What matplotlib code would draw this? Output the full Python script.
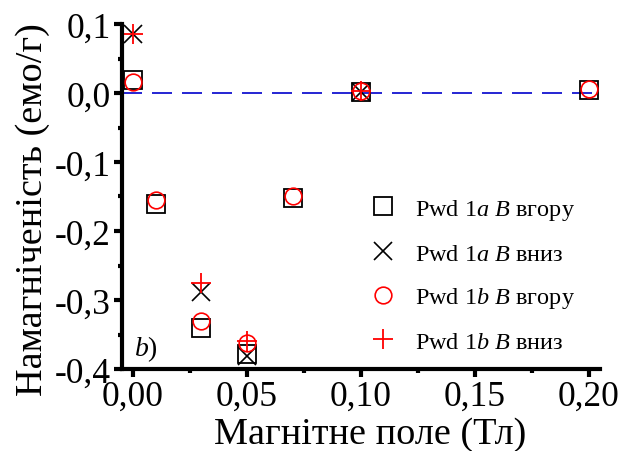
import matplotlib.pyplot as plt
from matplotlib.ticker import MultipleLocator, FuncFormatter

plt.rcParams['font.family'] = ['Liberation Serif', 'DejaVu Serif']
plt.rcParams['mathtext.fontset'] = 'custom'
plt.rcParams['mathtext.rm'] = 'Liberation Serif'
plt.rcParams['mathtext.it'] = 'Liberation Serif:italic'

# Pwd 1a, поле вгору / вниз
x_1a_up = [0.0, 0.01, 0.03, 0.05, 0.07, 0.10, 0.20]
m_1a_up = [0.019, -0.161, -0.340, -0.378, -0.152, 0.002, 0.004]
x_1a_down = [0.0, 0.03, 0.05, 0.10]
m_1a_down = [0.086, -0.288, -0.381, 0.002]

# Pwd 1b, поле вгору / вниз
x_1b_up = [0.0, 0.01, 0.03, 0.05, 0.07, 0.10, 0.20]
m_1b_up = [0.016, -0.155, -0.330, -0.362, -0.149, 0.003, 0.006]
x_1b_down = [0.0, 0.03, 0.05, 0.10]
m_1b_down = [0.086, -0.275, -0.360, 0.003]

fig = plt.figure(figsize=(6.31, 4.52), dpi=100)
ax = fig.add_axes([122/631, 1-370/452, (600-122)/631, (370-25)/452])

ax.axhline(0, color='#0000cc', lw=1.2, dashes=(12, 6), zorder=1)

ax.plot(x_1a_up, m_1a_up, ls='none', marker='s', ms=13, mfc='none', mec='black', mew=1.3,
        label='Pwd 1$a$ $B$ вгору')
ax.plot(x_1a_down, m_1a_down, ls='none', marker='x', ms=13, mec='black', mew=1.2,
        label='Pwd 1$a$ $B$ вниз')
ax.plot(x_1b_up, m_1b_up, ls='none', marker='o', ms=12, mfc='none', mec='red', mew=1.2,
        label='Pwd 1$b$ $B$ вгору')
ax.plot(x_1b_down, m_1b_down, ls='none', marker='+', ms=15, mec='red', mew=1.3,
        label='Pwd 1$b$ $B$ вниз')

ax.set_xlim(-0.0048, 0.2048)
ax.set_ylim(-0.4, 0.1)
ax.xaxis.set_major_locator(MultipleLocator(0.05))
ax.xaxis.set_minor_locator(MultipleLocator(0.025))
ax.yaxis.set_major_locator(MultipleLocator(0.1))
ax.yaxis.set_minor_locator(MultipleLocator(0.05))
ax.xaxis.set_major_formatter(FuncFormatter(lambda v, p: f'{v:.2f}'.replace('.', ',')))
ax.yaxis.set_major_formatter(FuncFormatter(lambda v, p: f'{v:.1f}'.replace('.', ',').replace('-0,0', '0,0')))

for s in ['top', 'right']:
    ax.spines[s].set_visible(False)
for s in ['left', 'bottom']:
    ax.spines[s].set_linewidth(3)
ax.tick_params(which='major', direction='out', length=6, width=3, labelsize=25.5, pad=2)
ax.tick_params(which='minor', direction='out', length=3, width=3)

ax.set_xlabel('Магнітне поле (Тл)', fontsize=27.5, labelpad=2)
ax.set_ylabel('Намагніченість (емо/г)', fontsize=27.5, labelpad=3.5)
ax.xaxis.label.set_x(0.519)
ax.yaxis.label.set_y(0.464)

ax.text(0.0005, -0.37, '$b$)', fontsize=20, va='center')

ax.legend(loc='upper left', bbox_to_anchor=(0.47, 0.562), frameon=False, fontsize=17.5,
          handletextpad=0.72, labelspacing=0.85, handlelength=1.2)

fig.savefig('out.png', dpi=100)
